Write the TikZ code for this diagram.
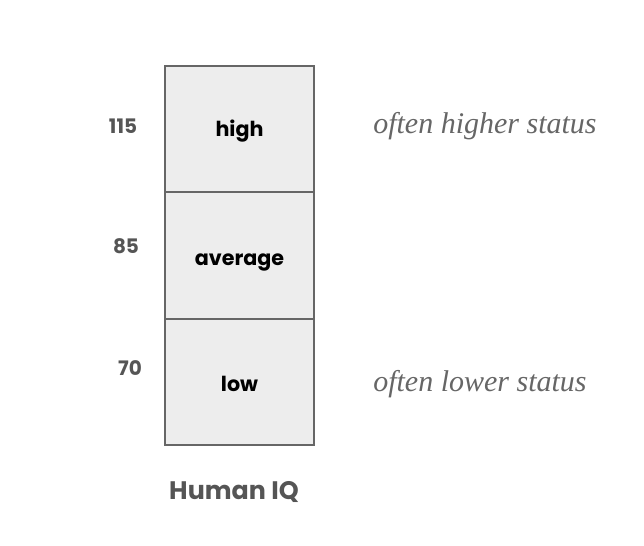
\documentclass[tikz,border=0pt]{standalone}
\usepackage{fontspec}
\setmainfont{Poppins}
\newfontfamily\serifit{Liberation Serif}
\definecolor{boxfill}{HTML}{EDEDED}
\definecolor{boxline}{HTML}{666666}
\definecolor{numgray}{HTML}{555555}
\definecolor{itgray}{HTML}{666666}
\begin{document}
\begin{tikzpicture}[x=0.75pt,y=-0.75pt,
  band/.style={draw=boxline,fill=boxfill,line width=1.4pt,minimum width=149*0.75pt,minimum height=126.5*0.75pt,inner sep=0pt},
  lab/.style={font=\fontsize{15.5}{18}\selectfont\bfseries,text=black,anchor=base,inner sep=0pt},
  num/.style={font=\fontsize{15}{18}\selectfont\bfseries,text=numgray,anchor=base,inner sep=0pt},
  note/.style={font=\serifit\itshape\fontsize{22.5}{26}\selectfont,text=itgray,anchor=base west,inner sep=0pt}]
\useasboundingbox (0,0) rectangle (644,546);
\node[band] (high) at (239.5,129) {};
\node[band] (avg) at (239.5,255.5) {};
\node[band] (low) at (239.5,382) {};
\node[lab] (lhigh) at (239.5,137) {high};
\node[lab] (lavg) at (239.5,265) {average};
\node[lab] (llow) at (239.5,391) {low};
\node[num] (n115) at (123,133) {115};
\node[num] (n85) at (126,253) {85};
\node[num] (n70) at (130,375) {70};
\node[note] (hs) at (373,133) {often higher status};
\node[note] (ls) at (373,391) {often lower status};
\node[font=\fontsize{19}{22}\selectfont\bfseries,text=numgray,anchor=base,inner sep=0pt] (title) at (234,499) {Human IQ};
\end{tikzpicture}
\end{document}
